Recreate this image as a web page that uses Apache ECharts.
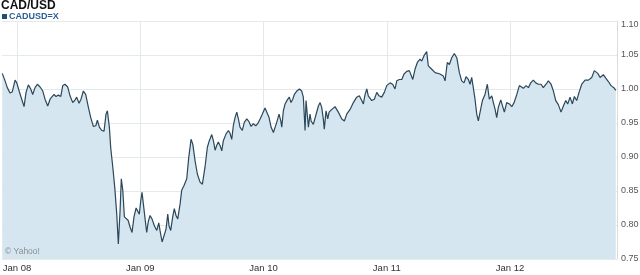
<!DOCTYPE html>
<html>
<head>
<meta charset="utf-8">
<script src="https://cdn.jsdelivr.net/npm/echarts@6/dist/echarts.min.js"></script>
<style>
html,body{margin:0;padding:0;background:#fff;}
#chart{width:640px;height:275px;}
</style>
</head>
<body>
<div id="chart"></div>
<script>
// Decimal-year time stamps and CAD/USD rate
const cadusd = [
[2007.880,1.023],[2007.903,1.012],[2007.921,1.002],[2007.943,0.994],[2007.962,0.996],[2007.984,1.013],[2007.998,1.009],
[2008.019,0.996],[2008.038,0.985],[2008.057,0.974],[2008.073,0.995],[2008.092,1.006],[2008.111,1.000],[2008.127,0.992],
[2008.146,1.002],[2008.165,1.007],[2008.187,1.003],[2008.209,0.997],[2008.227,0.985],[2008.249,0.975],[2008.268,0.985],
[2008.282,0.983],[2008.300,0.992],[2008.316,0.989],[2008.335,0.991],[2008.355,0.989],[2008.371,1.005],[2008.389,1.007],
[2008.411,1.003],[2008.430,0.990],[2008.452,0.980],[2008.471,0.984],[2008.484,0.988],[2008.503,0.979],[2008.519,0.985],
[2008.538,0.997],[2008.557,0.992],[2008.579,0.973],[2008.598,0.958],[2008.619,0.945],[2008.639,0.946],[2008.652,0.954],
[2008.668,0.944],[2008.687,0.939],[2008.706,0.938],[2008.722,0.963],[2008.733,0.968],[2008.749,0.944],
[2008.760,0.914],[2008.777,0.885],[2008.793,0.855],[2008.809,0.816],[2008.822,0.772],[2008.836,0.821],[2008.846,0.868],
[2008.858,0.851],[2008.871,0.812],[2008.884,0.814],[2008.901,0.807],[2008.917,0.797],[2008.933,0.789],[2008.949,0.812],
[2008.966,0.825],[2008.979,0.824],[2008.992,0.816],[2009.004,0.836],[2009.014,0.848],[2009.025,0.831],[2009.039,0.809],
[2009.052,0.789],[2009.065,0.805],[2009.079,0.814],[2009.095,0.809],[2009.114,0.799],[2009.134,0.792],[2009.150,0.803],
[2009.160,0.792],[2009.177,0.775],[2009.193,0.777],[2009.209,0.794],[2009.223,0.816],[2009.233,0.799],[2009.247,0.792],
[2009.263,0.812],[2009.276,0.824],[2009.290,0.814],[2009.304,0.809],[2009.323,0.831],[2009.336,0.851],[2009.355,0.858],
[2009.377,0.868],[2009.393,0.899],[2009.412,0.926],[2009.426,0.919],[2009.444,0.895],[2009.463,0.875],[2009.485,0.863],
[2009.504,0.860],[2009.525,0.885],[2009.544,0.914],[2009.560,0.924],[2009.580,0.933],[2009.593,0.924],[2009.607,0.910],
[2009.620,0.917],[2009.633,0.922],[2009.647,0.917],[2009.661,0.909],[2009.674,0.924],[2009.696,0.934],[2009.715,0.939],
[2009.728,0.935],[2009.742,0.926],[2009.755,0.946],[2009.769,0.958],[2009.783,0.966],[2009.796,0.956],[2009.809,0.944],
[2009.828,0.939],[2009.844,0.951],[2009.864,0.956],[2009.882,0.952],[2009.899,0.945],[2009.917,0.949],[2009.937,0.946],
[2009.953,0.949],[2009.972,0.956],[2009.990,0.963],
[2010.012,0.972],[2010.026,0.970],[2010.045,0.958],[2010.061,0.944],[2010.080,0.936],[2010.093,0.938],[2010.107,0.951],
[2010.126,0.963],[2010.140,0.953],[2010.148,0.944],[2010.161,0.968],[2010.175,0.978],[2010.193,0.984],[2010.209,0.988],
[2010.223,0.980],[2010.237,0.985],[2010.250,0.992],[2010.270,0.997],[2010.291,1.000],[2010.310,0.997],[2010.323,0.988],
[2010.337,0.939],[2010.345,0.983],[2010.356,0.983],[2010.364,0.944],[2010.377,0.963],[2010.386,0.953],[2010.404,0.948],
[2010.424,0.961],[2010.445,0.975],[2010.459,0.980],[2010.472,0.973],[2010.485,0.956],[2010.493,0.941],[2010.507,0.968],
[2010.521,0.956],[2010.532,0.966],[2010.554,0.970],[2010.580,0.974],[2010.607,0.966],[2010.635,0.956],[2010.656,0.953],
[2010.675,0.963],[2010.702,0.970],[2010.729,0.980],[2010.756,0.988],[2010.777,0.990],[2010.797,0.983],[2010.810,0.978],
[2010.824,0.992],[2010.838,1.000],[2010.850,0.990],[2010.878,0.983],[2010.899,0.985],[2010.919,0.995],[2010.937,0.990],
[2010.959,0.988],[2010.980,0.995],
[2011.000,1.005],[2011.027,1.009],[2011.048,1.007],[2011.067,1.000],[2011.081,1.012],[2011.102,1.014],[2011.122,1.014],
[2011.140,1.022],[2011.162,1.026],[2011.183,1.027],[2011.211,1.014],[2011.229,1.029],[2011.248,1.039],[2011.270,1.044],
[2011.284,1.041],[2011.302,1.049],[2011.324,1.055],[2011.337,1.034],[2011.365,1.029],[2011.392,1.024],[2011.432,1.022],
[2011.459,1.019],[2011.473,1.012],[2011.491,1.039],[2011.508,1.036],[2011.527,1.046],[2011.548,1.052],[2011.568,1.046],
[2011.589,1.024],[2011.608,1.012],[2011.627,1.009],[2011.643,1.018],[2011.662,1.014],[2011.676,1.007],[2011.689,1.017],
[2011.702,1.002],[2011.716,0.985],[2011.730,0.963],[2011.743,0.953],[2011.757,0.966],[2011.776,0.983],[2011.797,0.992],
[2011.816,1.007],[2011.832,0.985],[2011.852,0.990],[2011.865,0.980],[2011.879,0.970],[2011.892,0.958],[2011.905,0.973],
[2011.925,0.984],[2011.941,0.983],[2011.954,0.966],[2011.973,0.980],[2011.995,0.978],
[2012.014,0.974],[2012.033,0.980],[2012.055,0.992],[2012.076,1.005],[2012.089,1.007],[2012.108,1.001],[2012.130,1.005],
[2012.149,1.002],[2012.168,1.009],[2012.189,1.013],[2012.209,1.009],[2012.230,1.007],[2012.252,1.007],[2012.270,1.002],
[2012.292,1.007],[2012.311,1.012],[2012.333,1.007],[2012.352,0.997],[2012.371,0.983],[2012.392,0.977],[2012.414,0.966],
[2012.433,0.975],[2012.452,0.983],[2012.468,0.978],[2012.487,0.988],[2012.506,0.978],[2012.522,0.989],[2012.541,0.983],
[2012.560,0.995],[2012.582,1.007],[2012.609,1.013],[2012.636,1.013],[2012.663,1.017],[2012.684,1.027],[2012.712,1.023],
[2012.731,1.017],[2012.757,1.021],[2012.777,1.016],[2012.798,1.011],[2012.820,1.005],[2012.834,1.007],[2012.847,1.001],
[2012.858,0.998]
];
const tickYears = [2008, 2009, 2010, 2011, 2012];
const tickLabels = ['Jan 08', 'Jan 09', 'Jan 10', 'Jan 11', 'Jan 12'];
const timeRange = [2007.878, 2012.868];
const rateRange = [0.75, 1.10];
const rateStep = 0.05;

const FONT = "'Liberation Sans', Arial, sans-serif";
const chart = echarts.init(document.getElementById('chart'), null, {renderer: 'canvas'});
chart.setOption({
  animation: false,
  backgroundColor: '#ffffff',
  title: {
    text: 'CAD/USD',
    left: 1, top: 0, padding: 0,
    textStyle: {fontFamily: FONT, fontSize: 12, fontWeight: 'bold', color: '#111'}
  },
  legend: {
    left: 2, top: 12, padding: 0,
    icon: 'rect', itemWidth: 5, itemHeight: 5,
    data: [{name: 'CADUSD=X', itemStyle: {color: '#1f4e7a'}}],
    textStyle: {fontFamily: FONT, fontSize: 9, fontWeight: 'bold', color: '#2a5f92', padding: [0, 0, 0, -3]}
  },
  grid: {left: 2, right: 23, top: 21, bottom: 16, containLabel: false, outerBoundsMode: 'none'},
  xAxis: {
    type: 'value', min: timeRange[0], max: timeRange[1], z: 3,
    axisLine: {show: false},
    axisTick: {show: false, customValues: tickYears},
    splitLine: {show: true, lineStyle: {color: '#e4e9ec', width: 1}},
    axisLabel: {
      customValues: tickYears, margin: 4,
      fontFamily: FONT, fontSize: 9.5, color: '#333',
      formatter: v => tickLabels[tickYears.indexOf(Math.round(v))]
    }
  },
  yAxis: {
    type: 'value', position: 'right', min: rateRange[0], max: rateRange[1], interval: rateStep, z: 3,
    axisLine: {show: true, lineStyle: {color: '#dcdcdc'}},
    axisTick: {show: false},
    splitLine: {show: true, lineStyle: {color: '#e4e9ec', width: 1}},
    axisLabel: {
      margin: 4, fontFamily: FONT, fontSize: 9, color: '#555',
      formatter: v => Math.abs(v - rateRange[1]) < 1e-9 ? '{top|' + v.toFixed(2) + '}' : v.toFixed(2),
      rich: {top: {fontFamily: FONT, fontSize: 9, color: '#555', padding: [7, 0, 0, 0]}}
    }
  },
  graphic: [{
    type: 'text', left: 5, top: 247, z: 10,
    style: {text: '\u00A9 Yahoo!', fontFamily: FONT, fontSize: 8.5, fill: '#8a8f94'}
  }],
  series: [{
    name: 'CADUSD=X',
    type: 'line',
    data: cadusd,
    showSymbol: false,
    symbol: 'none',
    smooth: false,
    lineStyle: {color: '#2b4759', width: 1.2},
    itemStyle: {color: '#1f4e7a'},
    areaStyle: {color: '#d5e6f0', opacity: 1, origin: 'start'}
  }]
});
</script>
</body>
</html>
